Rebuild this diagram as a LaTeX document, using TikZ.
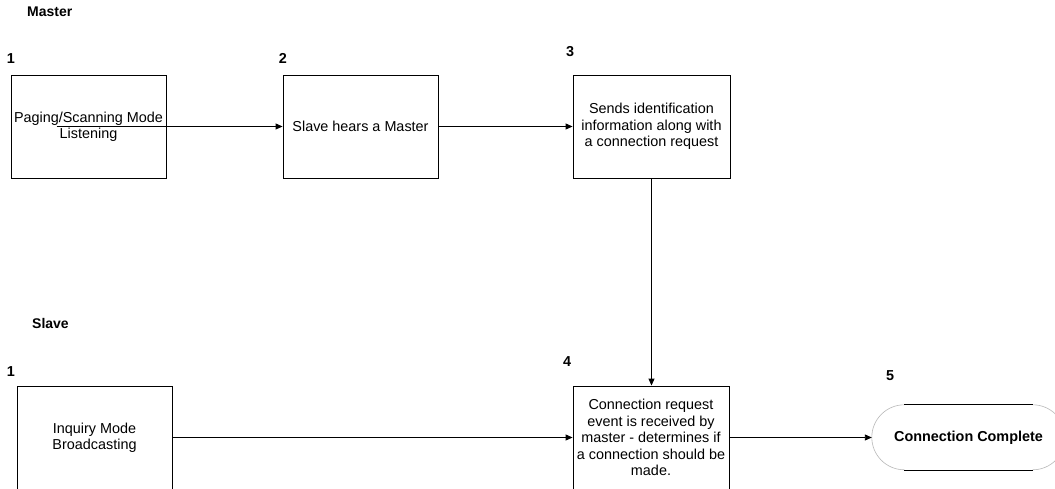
\documentclass[tikz,border=0pt]{standalone}
\usepackage{fontspec}
\setmainfont{Liberation Sans}
\usetikzlibrary{arrows.meta,calc}
\begin{document}
\begin{tikzpicture}[x=1pt,y=-1pt,
  box/.style={draw=black,line width=0.9pt,minimum height=103pt,inner sep=0pt,align=center,font=\fontsize{14.4}{16.4}\selectfont},
  num/.style={font=\fontsize{14.4}{16}\selectfont\bfseries,inner sep=0pt,anchor=base},
  lane/.style={font=\fontsize{14}{16}\selectfont\bfseries,inner sep=0pt,anchor=base west},
  arr/.style={line width=0.9pt,-{Triangle[length=7pt,width=6pt]}}]
\fill[white] (0,0) rectangle (1055,489);
\useasboundingbox (0,0) rectangle (1055,489);

% lane titles
\node[lane] (master) at (27,17) {Master};
\node[lane] (slave) at (32,328) {Slave};

% step numbers
\node[num] (n1a) at (11,64) {1};
\node[num] (n2) at (283,64) {2};
\node[num] (n3) at (570,57) {3};
\node[num] (n1b) at (11,376) {1};
\node[num] (n4) at (567,366) {4};
\node[num] (n5) at (890,380) {5};

% boxes
\node[box,minimum width=155pt] (b1) at (88.5,126.5) {Paging/Scanning Mode\\Listening};
\node[box,minimum width=155pt] (b2) at (360.5,126.5) {Slave hears a Master};
\node[box,minimum width=157pt] (b3) at (651.5,126.5) {Sends identification\\information along with\\a connection request};
\node[box,minimum width=155pt] (s1) at (94.5,437.5) {Inquiry Mode\\Broadcasting};
\node[box,minimum width=156pt] (b4) at (651,437.5) {Connection request\\event is received by\\master - determines if\\a connection should be\\made.};

% terminator
\node[minimum width=193pt,minimum height=65pt,inner sep=0pt,font=\fontsize{14.4}{16}\selectfont\bfseries] (t5) at (968.5,437.5) {Connection Complete};
\draw[gray!55,line width=0.6pt] ($(t5.north west)+(32.5,0)$) arc[start angle=90,end angle=270,radius=32.5pt];
\draw[gray!55,line width=0.6pt] ($(t5.north east)+(-32.5,0)$) arc[start angle=90,end angle=-90,radius=32.5pt];
\draw[line width=0.9pt] ($(t5.north west)+(32.5,0)$) -- ($(t5.north east)+(-32.5,0)$);
\draw[line width=0.9pt] ($(t5.south west)+(32.5,0)$) -- ($(t5.south east)+(-32.5,0)$);

% connectors
\coordinate (c1) at ($(b1.west)+(46,0)$);
\draw[arr] (c1) -- (b2.west);
\draw[arr] (b2.east) -- (b3.west);
\draw[arr] (b3.south) -- (b3.south |- b4.north);
\draw[arr] (s1.east) -- (b4.west);
\draw[arr] (b4.east) -- (t5.west);
\end{tikzpicture}
\end{document}
